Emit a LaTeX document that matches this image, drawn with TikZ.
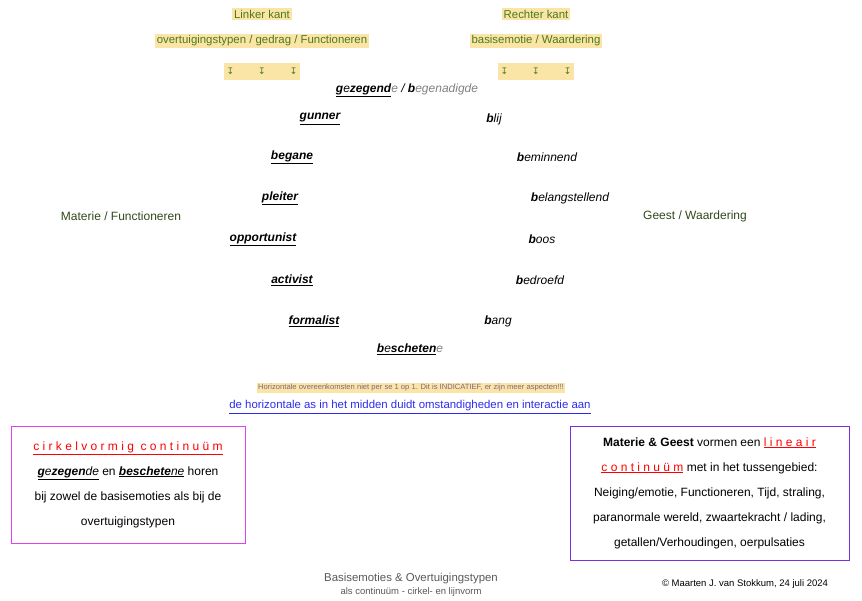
\documentclass[tikz,border=0pt]{standalone}
\usepackage{fontspec}
\setmainfont{Liberation Sans}
\newfontfamily\symfont{DejaVu Sans}
\usetikzlibrary{positioning}
\definecolor{hlyellow}{HTML}{FBE5A6}
\definecolor{kantgreen}{HTML}{4A7A1E}
\definecolor{darkgreen}{HTML}{2E4A1A}
\definecolor{linkblue}{HTML}{2B2BF0}
\definecolor{boxmagenta}{HTML}{E040F0}
\definecolor{boxpurple}{HTML}{7A30E0}
\newcommand{\grey}[1]{{\color{gray}#1}}
\newcommand{\spc}[1]{\textcolor{red}{\underline{#1}}}
\begin{document}
\begin{tikzpicture}[x=1pt,y=-1pt,
    every node/.style = {font=\fontsize{11.4}{13}\selectfont},
    kant/.style = {fill=hlyellow,text=kantgreen,inner sep=2pt},
    word/.style = {font=\fontsize{12}{14}\selectfont\itshape},
    side/.style = {text=darkgreen,font=\fontsize{12}{14}\selectfont},
    infobox/.style = {draw,thick,align=center,font=\fontsize{12}{25}\selectfont}]
    \useasboundingbox (0,0) rectangle (862,600);
    % headers
    \node[kant] (lk) at (262,14) {Linker kant};
    \node[kant] (rk) at (536,14) {Rechter kant};
    \node[kant] (lt) at (262,41) {overtuigingstypen / gedrag / Functioneren};
    \node[kant] (rt) at (536,41) {basisemotie / Waardering};
    \node[kant,font=\symfont\fontsize{9}{11}\selectfont,minimum width=76pt,minimum height=17pt] (la) at (262,71) {↧\hspace{24pt}↧\hspace{24pt}↧};
    \node[kant,font=\symfont\fontsize{9}{11}\selectfont,minimum width=76pt,minimum height=17pt] (ra) at (536,71) {↧\hspace{24pt}↧\hspace{24pt}↧};
    % words
    \node[word] (top) at (407,90) {\underline{\textbf{g}e\textbf{zegend}}\grey{e} / \textbf{b}\grey{egenadigde}};
    \node[word] (l1) at (320,119) {\underline{\textbf{gunner}}};
    \node[word] (l2) at (292,157) {\underline{\textbf{begane}}};
    \node[word] (l3) at (280,198) {\underline{\textbf{pleiter}}};
    \node[word] (l4) at (263,239) {\underline{\textbf{opportunist}}};
    \node[word] (l5) at (292,280) {\underline{\textbf{activist}}};
    \node[word] (l6) at (314,321) {\underline{\textbf{formalist}}};
    \node[word] (r1) at (494,119) {\textbf{b}lij};
    \node[word] (r2) at (547,157) {\textbf{b}eminnend};
    \node[word] (r3) at (570,198) {\textbf{b}elangstellend};
    \node[word] (r4) at (542,239) {\textbf{b}oos};
    \node[word] (r5) at (540,280) {\textbf{b}edroefd};
    \node[word] (r6) at (498,321) {\textbf{b}ang};
    \node[word] (bot) at (410,349) {\underline{\textbf{b}e\textbf{scheten}}\grey{e}};
    \node[side] (mat) at (121,216) {Materie / Functioneren};
    \node[side] (gst) at (695,216) {Geest / Waardering};
    % notes
    \node[fill=hlyellow,text=gray!80!violet,inner sep=1.5pt,font=\fontsize{7.6}{9}\selectfont] (note) at (411,388) {Horizontale overeenkomsten niet per se 1 op 1. Dit is INDICATIEF, er zijn meer aspecten!!!};
    \node[text=linkblue] (link) at (410,407) {\underline{de horizontale as in het midden duidt omstandigheden en interactie aan}};
    % boxes
    \node[infobox,draw=boxmagenta,minimum width=234pt,minimum height=117pt] (cirkel) at (128,484.5)
      {\spc{c i r k e l v o r m i g\ \ c o n t i n u ü m}\\
       \underline{\textbf{\itshape g}\textit{e}\textbf{\itshape zegen}\textit{de}} en \underline{\textbf{\itshape be}\textbf{\itshape schete}\textit{ne}} horen\\
       bij zowel de basisemoties als bij de\\ overtuigingstypen};
    \node[infobox,draw=boxpurple,minimum width=279pt,minimum height=134pt] (lijn) at (709.5,493)
      {\textbf{Materie \& Geest} vormen een \spc{l i n e a i r}\\
       \spc{c o n t i n u ü m} met in het tussengebied:\\
       Neiging/emotie, Functioneren, Tijd, straling,\\
       paranormale wereld, zwaartekracht / lading,\\
       getallen/Verhoudingen, oerpulsaties};
    % footer
    \node[text=gray!70!black] (t1) at (411,579) {Basisemoties \& Overtuigingstypen};
    \node[text=gray!70!black,font=\fontsize{9.5}{11}\selectfont] (t2) at (411,592) {als continuüm - cirkel- en lijnvorm};
    \node[font=\fontsize{9.5}{11}\selectfont] (copy) at (745,584) {© Maarten J. van Stokkum, 24 juli 2024};
\end{tikzpicture}
\end{document}
